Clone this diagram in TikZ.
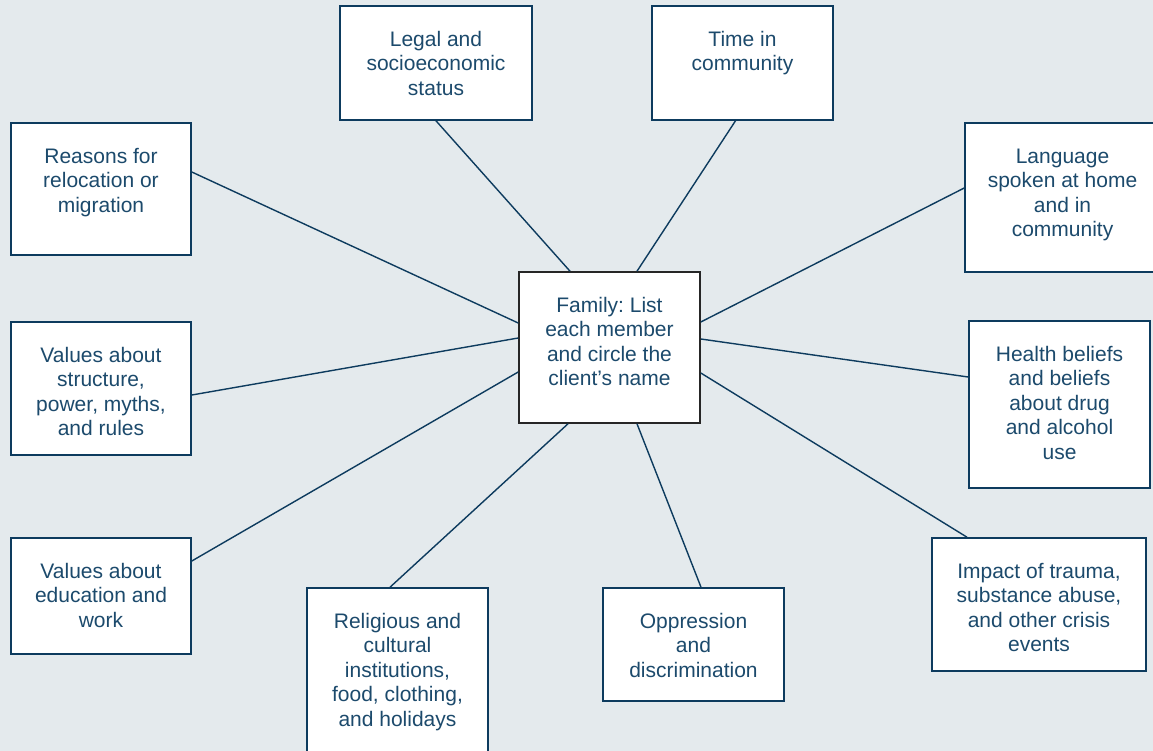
\documentclass[tikz,border=0pt]{standalone}
\usepackage{fontspec}
\setmainfont{Liberation Sans}
\frenchspacing
\definecolor{bgc}{HTML}{E4EAED}
\definecolor{navy}{HTML}{0D3B5E}
\definecolor{ink}{HTML}{1C4A6C}
\newcommand{\boxtext}[3]{\parbox[c][#2pt][t]{#1pt}{\centering\vspace*{23pt}\strut #3}}

\begin{document}
\begin{tikzpicture}[x=1pt,y=-1pt,
		topic/.style={draw=navy,line width=1.6pt,fill=white,inner sep=0pt,text=ink,
			font=\fontsize{21pt}{24.5pt}\selectfont},
		core/.style={topic,draw=black!85},
		link/.style={draw=navy,line width=1.4pt}]
		\fill[bgc] (0,0) rectangle (1153,751);
		\useasboundingbox (0,0) rectangle (1153,751);
		% centre box
		\node[core] (fam) at (609.5,347.5) {\boxtext{181}{151}{Family: List\\each member\\and circle the\\client’s name}};
		% boxes round it
		\node[topic] (legal) at (436,63) {\boxtext{192}{114}{Legal and\\socioeconomic\\status}};
		\node[topic] (time) at (742.5,63) {\boxtext{181}{114}{Time in\\community}};
		\node[topic] (reas) at (101,189) {\boxtext{180}{132}{Reasons for\\relocation or\\migration}};
		\node[topic] (lang) at (1062.5,197.5) {\boxtext{195}{149}{Language\\spoken at home\\and in\\community}};
		\node[topic] (vstr) at (101,388.5) {\boxtext{180}{133}{Values about\\structure,\\power, myths,\\and rules}};
		\node[topic] (health) at (1059.5,404.5) {\boxtext{181}{167}{Health beliefs\\and beliefs\\about drug\\and alcohol\\use}};
		\node[topic] (vedu) at (101,596) {\boxtext{180}{116}{Values about\\education and\\work}};
		\node[topic] (relig) at (397.5,671) {\boxtext{181}{166}{Religious and\\cultural\\institutions,\\food, clothing,\\and holidays}};
		\node[topic] (opp) at (693.5,644.5) {\boxtext{181}{113}{Oppression\\and\\discrimination}};
		\node[topic] (impact) at (1039,604.5) {\boxtext{214}{133}{Impact of trauma,\\substance abuse,\\and other crisis\\events}};
		% spokes
		\draw[link] (legal.south) -- ([xshift=-39.5pt]fam.north);
		\draw[link] ([xshift=-7pt]time.south) -- ([xshift=27.5pt]fam.north);
		\draw[link] ([yshift=17pt]reas.east) -- ([yshift=24.5pt]fam.west);
		\draw[link] ([yshift=9.5pt]lang.west) -- ([yshift=25.5pt]fam.east);
		\draw[link] ([yshift=-6.5pt]vstr.east) -- ([yshift=9.5pt]fam.west);
		\draw[link] ([yshift=27.5pt]health.west) -- ([yshift=8.5pt]fam.east);
		\draw[link] ([yshift=35pt]vedu.east) -- ([yshift=-24.5pt]fam.west);
		\draw[link] ([xshift=-7.5pt]relig.north) -- ([xshift=-41.5pt]fam.south);
		\draw[link] ([xshift=7.5pt]opp.north) -- ([xshift=27.5pt]fam.south);
		\draw[link] ([xshift=-72pt]impact.north) -- ([yshift=-25.5pt]fam.east);
\end{tikzpicture}
\end{document}
